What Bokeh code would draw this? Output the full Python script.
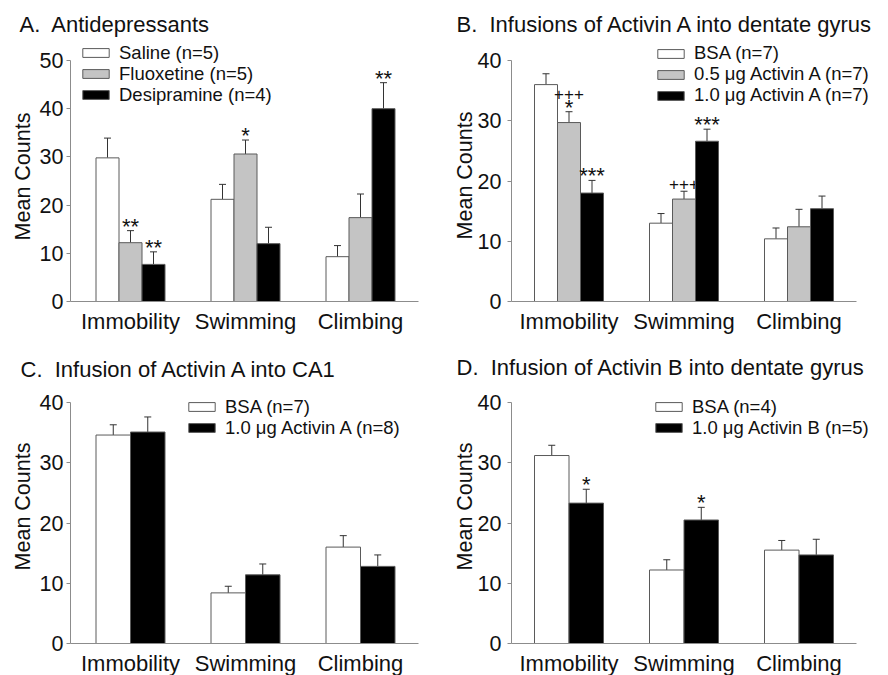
import math
from bokeh.plotting import figure
from bokeh.models import (ColumnDataSource, Whisker, TeeHead, Legend, LegendItem,
                          Label, FixedTicker, Range1d)
from bokeh.layouts import gridplot
from bokeh.embed import file_html
from bokeh.resources import INLINE
from bokeh.core.properties import value

FONT = "Liberation Sans"
categories = ["Immobility", "Swimming", "Climbing"]
y_label = "Mean Counts"

# ---- Panel A: Antidepressants ----
a_title = "A.\u00a0 Antidepressants"
a_labels = ["Saline (n=5)", "Fluoxetine (n=5)", "Desipramine (n=4)"]
a_saline = [29.8, 21.2, 9.3]
a_saline_sem = [4.1, 3.1, 2.3]
a_fluox = [12.2, 30.6, 17.4]
a_fluox_sem = [2.5, 2.9, 4.9]
a_desip = [7.7, 12.0, 40.0]
a_desip_sem = [2.6, 3.4, 5.4]
a_saline_sig = ["", "", ""]
a_fluox_sig = ["**", "*", ""]
a_desip_sig = ["**", "", "**"]
a_yticks = [0, 10, 20, 30, 40, 50]

# ---- Panel B: Activin A into dentate gyrus ----
b_title = "B.\u00a0 Infusions of Activin A into dentate gyrus"
b_labels = ["BSA (n=7)", "0.5 \u03bcg Activin A (n=7)", "1.0 \u03bcg Activin A (n=7)"]
b_bsa = [36.0, 13.0, 10.4]
b_bsa_sem = [1.8, 1.6, 1.8]
b_act05 = [29.7, 17.0, 12.4]
b_act05_sem = [1.8, 1.3, 2.9]
b_act10 = [18.0, 26.6, 15.4]
b_act10_sem = [2.1, 2.0, 2.1]
b_bsa_sig = ["", "", ""]
b_act05_sig = ["*", "", ""]
b_act05_plus = ["+++", "+++", ""]
b_act10_sig = ["***", "***", ""]
b_yticks = [0, 10, 20, 30, 40]

# ---- Panel C: Activin A into CA1 ----
c_title = "C.\u00a0 Infusion of Activin A into CA1"
c_labels = ["BSA (n=7)", "1.0 \u03bcg Activin A (n=8)"]
c_bsa = [34.6, 8.4, 16.0]
c_bsa_sem = [1.7, 1.1, 1.9]
c_act10 = [35.1, 11.4, 12.8]
c_act10_sem = [2.5, 1.8, 1.9]
c_yticks = [0, 10, 20, 30, 40]

# ---- Panel D: Activin B into dentate gyrus ----
d_title = "D.\u00a0 Infusion of Activin B into dentate gyrus"
d_labels = ["BSA (n=4)", "1.0 \u03bcg Activin B (n=5)"]
d_bsa = [31.2, 12.2, 15.5]
d_bsa_sem = [1.7, 1.7, 1.6]
d_actb = [23.3, 20.5, 14.7]
d_actb_sem = [2.3, 2.1, 2.6]
d_actb_sig = ["*", "*", ""]
d_yticks = [0, 10, 20, 30, 40]

WHITE, GRAY, BLACK = "#ffffff", "#c4c4c4", "#000000"
AXIS = "#8c8c8c"
EDGE = "#5a5a5a"
TXT = "#111111"
UNIT = 115.0      # pixels between category groups
ROW = 21.0        # legend row pitch in pixels
HALF_ITEM = 10.5  # half height of one legend entry
LEG_FONT = "18.5px"


def panel(title, labels, series, sems, sigs, pluses, colors, yticks, box,
          title_xy, ylab_xy, legend_xy, tick_standoff):
    # box: figure screen box + plot area geometry (pixels)
    fx0, fy0, fw, fh, ax_l, ax_r, y0_px, ytop_px, c0 = box
    ymax = yticks[-1]
    x_start = -(c0 - fx0) / UNIT
    x_end = x_start + fw / UNIT
    ppu = (y0_px - ytop_px) / ymax
    y_start = -(fy0 + fh - y0_px) / ppu
    y_end = ymax + (ytop_px - fy0) / ppu
    x_axis_l = x_start + (ax_l - fx0) / UNIT
    x_axis_r = x_start + (ax_r - fx0) / UNIT

    p = figure(width=fw, height=fh, min_border=0, title=None,
               x_range=Range1d(x_start, x_end), y_range=Range1d(y_start, y_end),
               output_backend="svg", toolbar_location=None, tools="")
    p.outline_line_color = None
    p.grid.visible = False
    p.background_fill_color = "white"
    p.border_fill_color = "white"

    # y axis
    ya = p.yaxis[0]
    ya.fixed_location = x_axis_l
    ya.bounds = (0, ymax)
    ya.ticker = FixedTicker(ticks=yticks)
    ya.minor_tick_line_color = None
    ya.major_tick_in = 0
    ya.major_tick_out = 4
    ya.axis_line_color = AXIS
    ya.major_tick_line_color = AXIS
    ya.major_label_text_font = FONT
    ya.major_label_text_font_size = "21.5px"
    ya.major_label_text_color = TXT
    ya.major_label_standoff = tick_standoff

    # x axis: category names at group centres
    xa = p.xaxis[0]
    xa.fixed_location = 0
    xa.bounds = (x_axis_l, x_axis_r)
    xa.ticker = FixedTicker(ticks=list(range(len(categories))))
    xa.major_label_overrides = {i: c for i, c in enumerate(categories)}
    xa.minor_tick_line_color = None
    xa.major_tick_line_color = None
    xa.major_tick_in = 0
    xa.major_tick_out = 0
    xa.axis_line_color = AXIS
    xa.major_label_text_font = FONT
    xa.major_label_text_font_size = "22px"
    xa.major_label_text_color = TXT
    xa.major_label_standoff = 7

    n = len(series)
    bw = 0.6 / n
    lx, ly = legend_xy   # legend box left, first-row centre (screen px)
    for k in range(n):
        off = (k - (n - 1) / 2) * bw
        xs = [i + off for i in range(len(categories))]
        upper = [m + s for m, s in zip(series[k], sems[k])]
        sig = sigs[k] if sigs[k] is not None else [""] * len(categories)
        plus = pluses[k] if pluses[k] is not None else [""] * len(categories)
        plus_off = [-18 if s else -7 for s in sig]
        src = ColumnDataSource(dict(x=xs, top=series[k], upper=upper,
                                    sig=sig, plus=plus, plus_off=plus_off))
        r = p.vbar(x="x", top="top", bottom=0, width=bw, source=src,
                   fill_color=colors[k], line_color=EDGE, line_width=1)
        p.add_layout(Whisker(source=src, base="x", upper="upper", lower="top",
                             dimension="height", line_color="#333333", line_width=1,
                             upper_head=TeeHead(size=7, line_color="#333333", line_width=1),
                             lower_head=None))
        p.text(x="x", y="upper", text="sig", source=src, text_align="center",
               text_baseline="alphabetic", y_offset=-4.5, text_color=TXT,
               text_font=value(FONT), text_font_size="22px")
        p.text(x="x", y="upper", text="plus", source=src, text_align="center",
               text_baseline="alphabetic", y_offset="plus_off", text_color=TXT,
               text_font=value(FONT), text_font_size="17px")
        # one legend entry per series, so the row pitch can be set exactly
        row_c = ly + k * ROW
        leg = Legend(items=[LegendItem(label=labels[k], renderers=[r])],
                     location=(lx - fx0, fy0 + fh - (row_c + HALF_ITEM)),
                     glyph_width=33, glyph_height=11, label_height=20,
                     label_standoff=7, spacing=0, padding=0, margin=0,
                     border_line_color=None, background_fill_alpha=0,
                     label_text_font=FONT, label_text_font_size=LEG_FONT,
                     label_text_color=TXT)
        p.add_layout(leg)

    p.add_layout(Label(x=title_xy[0] - fx0, y=fy0 + fh - title_xy[1],
                       x_units="screen", y_units="screen",
                       text=title, text_font=FONT, text_font_size="22px",
                       text_color=TXT, text_baseline="alphabetic"))
    p.add_layout(Label(x=ylab_xy[0] - fx0, y=fy0 + fh - ylab_xy[1],
                       x_units="screen", y_units="screen", angle=math.pi / 2,
                       text=y_label, text_font=FONT, text_font_size="21.5px",
                       text_color=TXT, text_align="center", text_baseline="middle"))
    return p


boxA = (0, 0, 444, 337, 70, 418, 301, 60, 130)
boxB = (444, 0, 444, 337, 511, 856, 301, 60, 568.5)
boxC = (0, 337, 444, 338, 70, 418, 643, 402, 130)
boxD = (444, 337, 444, 338, 511, 856, 643, 402, 568.5)

pA = panel(a_title, a_labels, [a_saline, a_fluox, a_desip],
           [a_saline_sem, a_fluox_sem, a_desip_sem],
           [a_saline_sig, a_fluox_sig, a_desip_sig], [None, None, None],
           [WHITE, GRAY, BLACK], a_yticks, boxA, (19, 23.5), (22, 176), (79, 53), 3)
pB = panel(b_title, b_labels, [b_bsa, b_act05, b_act10],
           [b_bsa_sem, b_act05_sem, b_act10_sem],
           [b_bsa_sig, b_act05_sig, b_act10_sig], [None, b_act05_plus, None],
           [WHITE, GRAY, BLACK], b_yticks, boxB, (456, 23.5), (464, 175), (654, 53.5), 6)
pC = panel(c_title, c_labels, [c_bsa, c_act10], [c_bsa_sem, c_act10_sem],
           [None, None], [None, None],
           [WHITE, BLACK], c_yticks, boxC, (20, 368.5), (22, 506), (185, 407), 3)
pD = panel(d_title, d_labels, [d_bsa, d_actb], [d_bsa_sem, d_actb_sem],
           [None, d_actb_sig], [None, None],
           [WHITE, BLACK], d_yticks, boxD, (456, 366.5), (464, 506), (652, 407), 6)

grid = gridplot([[pA, pB], [pC, pD]], toolbar_location=None)
open("out.html", "w").write(file_html(grid, INLINE))
